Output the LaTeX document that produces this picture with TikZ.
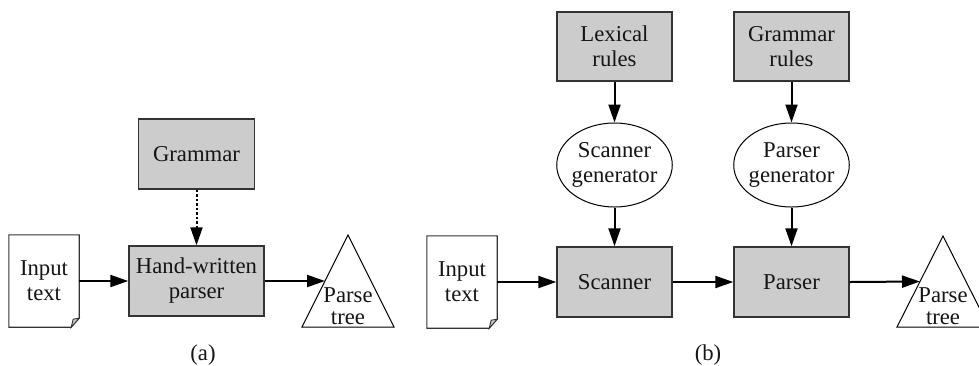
\documentclass[tikz,border=0pt]{standalone}
\usepackage{fontspec}
\setmainfont{Liberation Serif}
\usetikzlibrary{arrows.meta,shapes.geometric,calc,backgrounds}
\definecolor{boxfill}{HTML}{CCCCCC}
\definecolor{boxline}{HTML}{333333}
\definecolor{txt}{HTML}{151515}
\begin{document}
\begin{tikzpicture}[x=1pt,y=-1pt,
  every node/.style={font=\fontsize{22.7}{25}\selectfont, text=txt, inner sep=0pt, align=center},
  graybox/.style={rectangle, draw=boxline, fill=boxfill, line width=1.4pt, minimum width=115pt, minimum height=70pt},
  gen/.style={ellipse, draw=black, line width=1pt, fill=white, minimum width=115pt, minimum height=84pt, inner xsep=-2pt},
  docnode/.style={rectangle, minimum width=70pt, minimum height=92pt},
  docline/.style={draw=boxline, line width=1.1pt, fill=white},
  flapline/.style={draw=boxline, line width=0.9pt, fill=boxfill},
  tritext/.style={font=\fontsize{22.7}{22}\selectfont},
  triline/.style={draw=black, line width=1pt, fill=white},
  flow/.style={line width=2pt, draw=black, -{Triangle[length=18pt,width=12pt]}},
  dotflow/.style={flow, dash pattern=on 2.5pt off 2pt}
]
\useasboundingbox (0,0) rectangle (979,365);

% ---------- (a) ----------
\node[docnode] (inA) at (44,281) {Input\\text};
\node[graybox, minimum width=135pt] (hwp) at (196.5,281) {Hand-written\\parser};
\node[graybox, minimum width=116pt] (gram) at (196.5,154) {Grammar};
\coordinate (tAapex) at (348,235);
\coordinate (tAbl) at (302,327);
\coordinate (tAbr) at (394,327);
\coordinate (tAin) at ($(tAapex)!0.5!(tAbl)$);
\begin{pgfonlayer}{background}
  \draw[docline] (inA.north west) -- (inA.north east) -- ([yshift=9pt]inA.south east)
     -- ([xshift=-8pt]inA.south east) -- (inA.south west) -- cycle;
  \draw[flapline] ([yshift=9pt]inA.south east) -- ([xshift=-6pt,yshift=8pt]inA.south east)
     -- ([xshift=-8pt]inA.south east) -- cycle;
  \draw[triline] (tAapex) -- (tAbr) -- (tAbl) -- cycle;
\end{pgfonlayer}
\node[tritext] (triA) at (348,306) {Parse\\tree};

\draw[flow] (inA.east) -- (hwp.west);
\draw[flow] (hwp.east) -- (tAin);
\draw[dotflow] (gram.south) -- (hwp.north);

\node (capA) at (203,355) {(a)};

% ---------- (b) ----------
\node[docnode] (inB) at (462,282) {Input\\text};
\node[graybox] (scan) at (614.5,282) {Scanner};
\node[graybox] (pars) at (791.5,282) {Parser};
\node[graybox, minimum height=69pt] (lex) at (614.5,46.5) {Lexical\\rules};
\node[graybox, minimum height=69pt] (grr) at (791.5,46.5) {Grammar\\rules};
\node[gen] (sgen) at (614.5,165) {Scanner\\generator};
\node[gen] (pgen) at (791.5,165) {Parser\\generator};
\coordinate (tBapex) at (943,236);
\coordinate (tBbl) at (897,327);
\coordinate (tBbr) at (989,327);
\coordinate (tBin) at ($(tBapex)!0.5!(tBbl)$);
\begin{pgfonlayer}{background}
  \draw[docline] (inB.north west) -- (inB.north east) -- ([yshift=9pt]inB.south east)
     -- ([xshift=-8pt]inB.south east) -- (inB.south west) -- cycle;
  \draw[flapline] ([yshift=9pt]inB.south east) -- ([xshift=-6pt,yshift=8pt]inB.south east)
     -- ([xshift=-8pt]inB.south east) -- cycle;
  \draw[triline] (tBapex) -- (tBbr) -- (tBbl) -- cycle;
\end{pgfonlayer}
\node[tritext] (triB) at (943,306) {Parse\\tree};

\draw[flow] (inB.east) -- (scan.west);
\draw[flow] (scan.east) -- (pars.west);
\draw[flow] (pars.east) -- (tBin);
\draw[flow] (lex.south) -- (sgen.north);
\draw[flow] (sgen.south) -- (scan.north);
\draw[flow] (grr.south) -- (pgen.north);
\draw[flow] (pgen.south) -- (pars.north);

\node (capB) at (708,355) {(b)};
\end{tikzpicture}
\end{document}
